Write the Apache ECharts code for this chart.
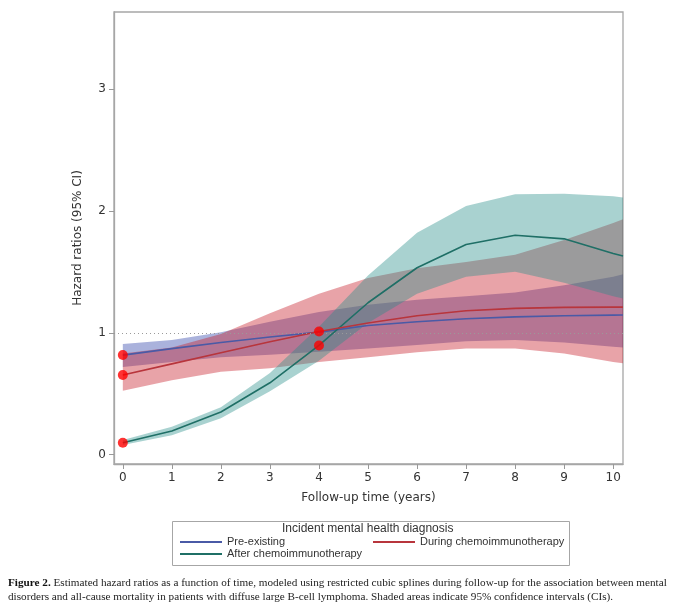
<!DOCTYPE html>
<html>
<head>
<meta charset="utf-8">
<script src="https://cdn.jsdelivr.net/npm/echarts@6/dist/echarts.min.js"></script>
<style>
  html, body { margin: 0; padding: 0; background: #fff; }
  #main { width: 680px; height: 609px; }
</style>
</head>
<body>
<div id="main"></div>
<script type="text/javascript">
    // follow-up years (last point is the right edge of the frame)
    var years = [0, 1, 2, 3, 4, 5, 6, 7, 8, 9, 10, 10.2];

    // Pre-existing
    var preHR = [0.817, 0.87, 0.92, 0.965, 1.005, 1.06, 1.09, 1.115, 1.13, 1.14, 1.145, 1.146];
    var preLo = [0.72, 0.76, 0.80, 0.82, 0.845, 0.87, 0.90, 0.93, 0.94, 0.92, 0.886, 0.88];
    var preHi = [0.908, 0.94, 1.005, 1.09, 1.17, 1.23, 1.27, 1.30, 1.33, 1.39, 1.46, 1.48];

    // During chemoimmunotherapy
    var duringHR = [0.653, 0.745, 0.836, 0.926, 1.01, 1.08, 1.14, 1.18, 1.20, 1.208, 1.21, 1.21];
    var duringLo = [0.525, 0.61, 0.68, 0.71, 0.76, 0.80, 0.84, 0.87, 0.87, 0.83, 0.76, 0.75];
    var duringHi = [0.83, 0.88, 0.99, 1.16, 1.32, 1.45, 1.53, 1.58, 1.64, 1.76, 1.90, 1.93];

    // After chemoimmunotherapy
    var afterHR = [0.098, 0.194, 0.35, 0.59, 0.896, 1.246, 1.533, 1.724, 1.80, 1.77, 1.65, 1.63];
    var afterLo = [0.08, 0.16, 0.30, 0.52, 0.77, 1.08, 1.32, 1.46, 1.50, 1.41, 1.30, 1.28];
    var afterHi = [0.12, 0.23, 0.39, 0.67, 1.05, 1.47, 1.82, 2.04, 2.136, 2.14, 2.12, 2.11];

    // red markers
    var dotX = [0, 0, 0, 4, 4];
    var dotY = [0.817, 0.653, 0.098, 1.01, 0.896];

    var xTicks = [0, 1, 2, 3, 4, 5, 6, 7, 8, 9, 10];
    var yTicks = [0, 1, 2, 3];

    var names = ['Pre-existing', 'During chemoimmunotherapy', 'After chemoimmunotherapy'];

    function pairs(xs, ys) {
        return xs.map(function (x, i) { return [x, ys[i]]; });
    }

    var font = '"DejaVu Sans", sans-serif';
    var legendFont = '"Liberation Sans", Arial, sans-serif';

    // shaded 95% CI as one polygon: upper edge left->right, lower edge back
    function band(key, lo, hi, color) {
        return {
            name: key + ' band', type: 'custom', silent: true,
            data: years.map(function (x, i) { return [x, lo[i], hi[i]]; }),
            encode: { x: 0, y: [1, 2] },
            renderItem: function (params, api) {
                if (params.dataIndex !== 0) return;
                var pts = [];
                for (var i = 0; i < years.length; i++) pts.push(api.coord([years[i], hi[i]]));
                for (var j = years.length - 1; j >= 0; j--) pts.push(api.coord([years[j], lo[j]]));
                return {
                    type: 'polygon', shape: { points: pts },
                    style: { fill: color }
                };
            }
        };
    }
    function curve(name, hr, color) {
        return {
            name: name, type: 'line', data: pairs(years, hr), symbol: 'none',
            lineStyle: { color: color, width: 1.6 }, itemStyle: { color: color }
        };
    }

    var series = [];
    series.push(band('pre', preLo, preHi, 'rgba(42,62,167,0.4)'));
    series[0].markLine = {
        silent: true, symbol: 'none', label: { show: false },
        lineStyle: { color: '#9a9a9a', type: [1, 3], width: 1 },
        data: [{ yAxis: 1 }]
    };
    series.push(curve(names[0], preHR, '#4a5aa6'));
    series.push(curve(names[2], afterHR, '#1f6f66'));
    series.push(band('during', duringLo, duringHi, 'rgba(197,25,38,0.4)'));
    series.push(curve(names[1], duringHR, '#b8353c'));
    series.push(band('after', afterLo, afterHi, 'rgba(40,142,137,0.4)'));
    series.push({
        name: 'dots', type: 'scatter', data: pairs(dotX, dotY), symbolSize: 10,
        itemStyle: { color: '#ff0000' }, z: 5, silent: true
    });

    var legendText = { fontFamily: legendFont, fontSize: 11, color: '#333', lineHeight: 12 };

    var option = {
        animation: false,
        textStyle: { fontFamily: font },
        grid: {
            left: 114, right: 57, top: 12, bottom: 145,
            show: true, borderColor: '#a6a6a6', borderWidth: 1.3, backgroundColor: 'transparent'
        },
        xAxis: {
            type: 'value', min: -0.18, max: 10.2,
            name: 'Follow-up time (years)', nameLocation: 'middle', nameGap: 28,
            nameTextStyle: { fontFamily: font, fontSize: 12, color: '#333' },
            axisLine: { show: true, onZero: false, lineStyle: { color: '#a6a6a6', width: 1.3 } },
            axisTick: { show: true, length: 5, customValues: xTicks, lineStyle: { color: '#999' } },
            axisLabel: { customValues: xTicks, fontSize: 12, color: '#333', margin: 8, fontFamily: font },
            splitLine: { show: false }
        },
        yAxis: {
            type: 'value', min: -0.076, max: 3.63,
            name: 'Hazard ratios (95% CI)', nameLocation: 'middle', nameGap: 30,
            nameTextStyle: { fontFamily: font, fontSize: 12, color: '#333' },
            axisLine: { show: true, onZero: false, lineStyle: { color: '#a6a6a6', width: 1.3 } },
            axisTick: { show: true, length: 5, customValues: yTicks, lineStyle: { color: '#999' } },
            axisLabel: { customValues: yTicks, fontSize: 12, color: '#333', margin: 8, fontFamily: font },
            splitLine: { show: false }
        },
        legend: [
            {
                left: 175, top: 531, orient: 'vertical', itemGap: 0,
                icon: 'rect', itemWidth: 42, itemHeight: 2,
                data: [names[0], names[2]], textStyle: legendText
            },
            {
                left: 368, top: 531, icon: 'rect', itemWidth: 42, itemHeight: 2,
                data: [names[1]], textStyle: legendText
            }
        ],
        graphic: [
            {
                type: 'rect', left: 170, top: 519, silent: true,
                shape: { width: 397, height: 44 },
                style: { fill: 'none', stroke: '#a6a6a6', lineWidth: 1 }
            },
            {
                type: 'text', left: 282, top: 523, silent: true,
                style: { text: 'Incident mental health diagnosis', font: '12px ' + legendFont, fill: '#333' }
            },
            {
                type: 'text', left: 8, top: 576, silent: true,
                style: {
                    text: '{b|Figure 2.} Estimated hazard ratios as a function of time, modeled using restricted cubic splines during follow-up for the association between mental\n' +
                          'disorders and all-cause mortality in patients with diffuse large B-cell lymphoma. Shaded areas indicate 95% confidence intervals (CIs).',
                    font: '11.2px "Liberation Serif", serif', fill: '#222', lineHeight: 14,
                    rich: { b: { font: 'bold 11.2px "Liberation Serif", serif', fill: '#111' } }
                }
            }
        ],
        series: series
    };

    var chart = echarts.init(document.getElementById('main'));
    chart.setOption(option);
</script>
</body>
</html>
